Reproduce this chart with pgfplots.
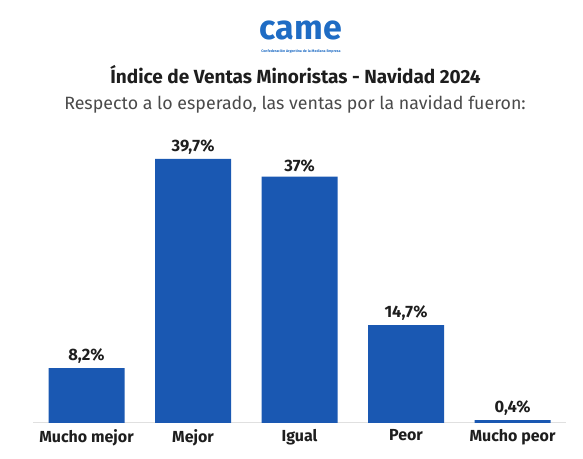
\documentclass[border=0pt]{standalone}
\usepackage{pgfplots}
\pgfplotsset{compat=1.18}
\usepackage{fontspec}
\setmainfont{Fira Sans}
\definecolor{barblue}{HTML}{1A58B2}
\definecolor{logoblue}{HTML}{1F6CC4}
\definecolor{subgray}{HTML}{4A4A4A}
\definecolor{txt}{HTML}{1E1E1E}
\begin{document}
\begin{tikzpicture}[x=1pt,y=1pt]
\useasboundingbox (0,0) rectangle (583,458);
% logo
\node[font=\fontsize{34}{34}\selectfont\bfseries, text=logoblue] at (301,428) {came};
\node[font=\fontsize{3.6}{4}\selectfont\bfseries, text=logoblue] at (301,407) {Confederación Argentina de la Mediana Empresa};
% titles
\node[font=\fontsize{19}{21}\selectfont\bfseries, text=txt] at (295.5,383) {Índice de Ventas Minoristas - Navidad 2024};
\node[font=\fontsize{17.8}{20}\selectfont, text=subgray] at (295,354) {Respecto a lo esperado, las ventas por la navidad fueron:};
\begin{axis}[
  at={(31.25,53)}, anchor=south west,
  scale only axis,
  width=532.5pt, height=266pt,
  xmin=-0.5, xmax=4.5, ymin=0, ymax=40,
  axis x line*=bottom, axis y line=none,
  x axis line style={draw=black!12, line width=1pt},
  xtick={0,1,2,3,4},
  xticklabels={Mucho mejor,Mejor,Igual,Peor,Mucho peor},
  xticklabel style={font=\fontsize{16}{17}\selectfont\bfseries, text=txt, yshift=-3pt},
  major tick length=0pt,
  ytick=\empty,
  clip=false,
  point meta=explicit symbolic,
  nodes near coords,
  nodes near coords style={font=\fontsize{16.5}{17}\selectfont\bfseries, text=txt, anchor=south, yshift=1pt},
]
\addplot[ybar, bar width=76pt, fill=barblue, draw=none] coordinates {
  (0,8.2) [8,2\%]
  (1,39.7) [39,7\%]
  (2,37) [37\%]
  (3,14.7) [14,7\%]
  (4,0.4) [0,4\%]
};
\end{axis}
\end{tikzpicture}
\end{document}
